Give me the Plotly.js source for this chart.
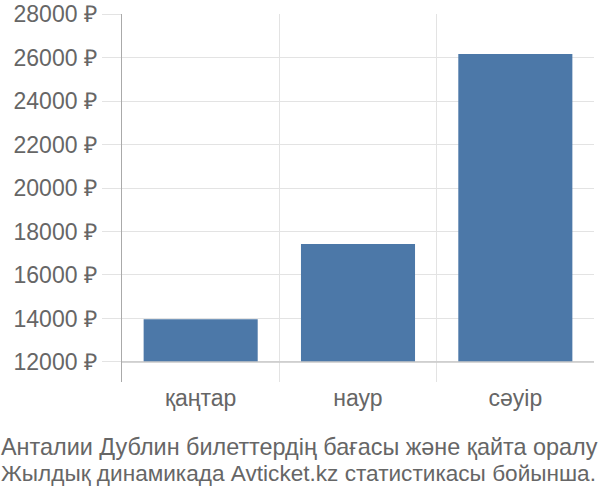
<!DOCTYPE html>
<html>
<head>
<meta charset="utf-8">
<script src="https://cdn.plot.ly/plotly-3.0.1.min.js"></script>
<style>html,body{margin:0;padding:0;background:#fff;}#chart{width:600px;height:500px;}</style>
</head>
<body>
<div id="chart"></div>
<script>
const categories = ["қаңтар", "наур", "сәуір"];
const prices = [13960, 17420, 26160];
const baseValue = 12000;
const yTickValues = [12000, 14000, 16000, 18000, 20000, 22000, 24000, 26000, 28000];
const yTickLabels = yTickValues.map(v => v + " ₽");
const titleLines = ["Анталии Дублин билеттердің бағасы және қайта оралу", "Жылдық динамикада Avticket.kz статистикасы бойынша."];

const font = "Liberation Sans, Arial, sans-serif";
const trace = {
  type: "bar",
  x: categories,
  y: prices.map(v => v - baseValue),
  base: baseValue,
  marker: {color: "#4c78a8"},
  hoverinfo: "skip"
};
const plotH = 368;
const titleSizes = [23.4, 22.6];
const layout = {
  width: 600, height: 500,
  margin: {l: 122, r: 6, t: 14, b: 118},
  paper_bgcolor: "#fff", plot_bgcolor: "#fff",
  showlegend: false,
  bargap: 0.275,
  font: {family: font, color: "#666", size: 20},
  xaxis: {
    type: "category",
    tickson: "boundaries",
    showgrid: true, gridcolor: "#e3e3e3", gridwidth: 1,
    ticks: "", showline: false, zeroline: false,
    tickfont: {family: font, size: 23, color: "#666"},
    fixedrange: true
  },
  yaxis: {
    range: [11080, 28000],
    tickmode: "array",
    tickvals: yTickValues,
    ticktext: yTickLabels,
    showgrid: true, gridcolor: "#e3e3e3", gridwidth: 1,
    ticks: "outside", ticklen: 19, tickcolor: "#e3e3e3", tickwidth: 1,
    showline: true, linecolor: "#aaa", linewidth: 1.5,
    zeroline: false,
    tickfont: {family: font, size: 23, color: "#666"},
    fixedrange: true
  },
  shapes: [{
    type: "line", xref: "paper", yref: "y",
    x0: 0, x1: 1, y0: baseValue, y1: baseValue,
    line: {color: "#c8c8c8", width: 1.5}, layer: "above"
  }],
  annotations: titleLines.map((t, i) => ({
    xref: "paper", yref: "paper",
    x: -122/472, y: (382 - (447 + 26*i)) / plotH,
    xanchor: "left", yanchor: "middle", align: "left",
    xshift: -1,
    showarrow: false,
    text: t,
    font: {family: font, size: titleSizes[i], color: "#666"}
  }))
};
Plotly.newPlot("chart", [trace], layout, {staticPlot: true, displayModeBar: false});
</script>
</body>
</html>
